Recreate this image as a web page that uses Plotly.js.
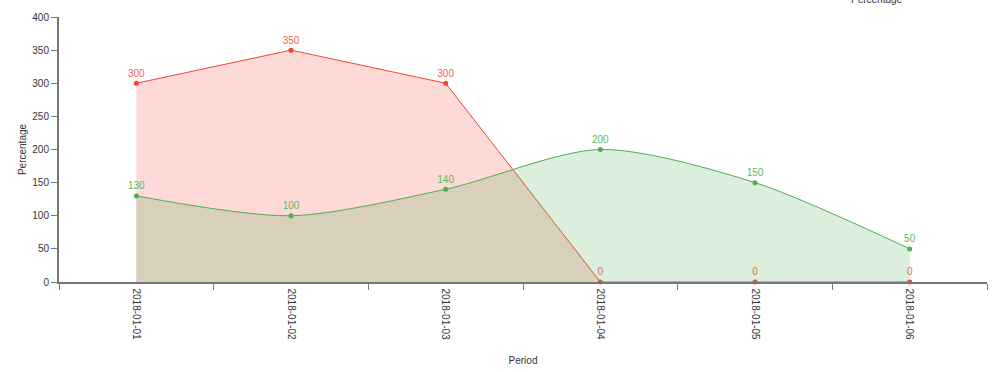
<!DOCTYPE html>
<html>
<head>
<meta charset="utf-8">
<script src="https://cdn.plot.ly/plotly-3.0.1.min.js"></script>
<style>html,body{margin:0;padding:0;background:#fff;}#chart{width:1000px;height:372px;}</style>
</head>
<body>
<div id="chart"></div>
<script>
const periods = ["2018-01-01","2018-01-02","2018-01-03","2018-01-04","2018-01-05","2018-01-06"];
const redValues = [300, 350, 300, 0, 0, 0];
const greenValues = [130, 100, 140, 200, 150, 50];
const yTicks = [0, 50, 100, 150, 200, 250, 300, 350, 400];

const red = {
  x: periods, y: redValues, type: 'scatter', mode: 'lines+markers+text',
  line: {color: '#f44336', width: 1, shape: 'linear'},
  marker: {color: '#f44336', size: 5},
  fill: 'tozeroy', fillcolor: 'rgba(244,67,54,0.2)',
  text: redValues.map(String), textposition: 'top center',
  textfont: {family: 'Liberation Sans, Arial, sans-serif', size: 10, color: '#f2625a'},
  hoverinfo: 'none', showlegend: false, cliponaxis: false
};
const green = {
  x: periods, y: greenValues, type: 'scatter', mode: 'lines+markers+text',
  line: {color: '#4caf50', width: 1, shape: 'spline', smoothing: 0.8},
  marker: {color: '#4caf50', size: 5},
  fill: 'tozeroy', fillcolor: 'rgba(76,175,80,0.2)',
  text: greenValues.map(String), textposition: 'top center',
  textfont: {family: 'Liberation Sans, Arial, sans-serif', size: 10, color: '#5cb85f'},
  hoverinfo: 'none', showlegend: false, cliponaxis: false
};

const layout = {
  width: 1000, height: 372,
  margin: {l: 59, r: 13, t: 17, b: 90},
  paper_bgcolor: '#fff', plot_bgcolor: '#fff',
  font: {family: 'Liberation Sans, Arial, sans-serif', size: 10, color: '#333'},
  xaxis: {
    type: 'category', range: [-0.5, 5.5],
    showgrid: false, zeroline: false,
    showline: true, linecolor: '#777', linewidth: 1.5,
    ticks: 'outside', tickson: 'boundaries', ticklen: 6, tickcolor: '#777',
    tickangle: 90, tickfont: {size: 10, color: '#333'}, ticklabelstandoff: 3,
    title: {text: 'Period', font: {size: 10, color: '#333'}, standoff: 18}
  },
  yaxis: {
    range: [0, 400], tickvals: yTicks,
    showgrid: false, zeroline: false,
    showline: true, linecolor: '#777', linewidth: 2,
    ticks: 'outside', ticklen: 6, tickcolor: '#777',
    tickfont: {size: 10, color: '#333'},
    title: {text: 'Percentage', font: {size: 10, color: '#333'}, standoff: 4}
  },
  annotations: [{
    xref: 'paper', yref: 'paper', x: 0.882, y: 1.067,
    xanchor: 'center', yanchor: 'middle', showarrow: false,
    text: 'Percentage', font: {size: 10, color: '#333'}
  }]
};

Plotly.newPlot('chart', [red, green], layout, {displayModeBar: false, staticPlot: true});
</script>
</body>
</html>
